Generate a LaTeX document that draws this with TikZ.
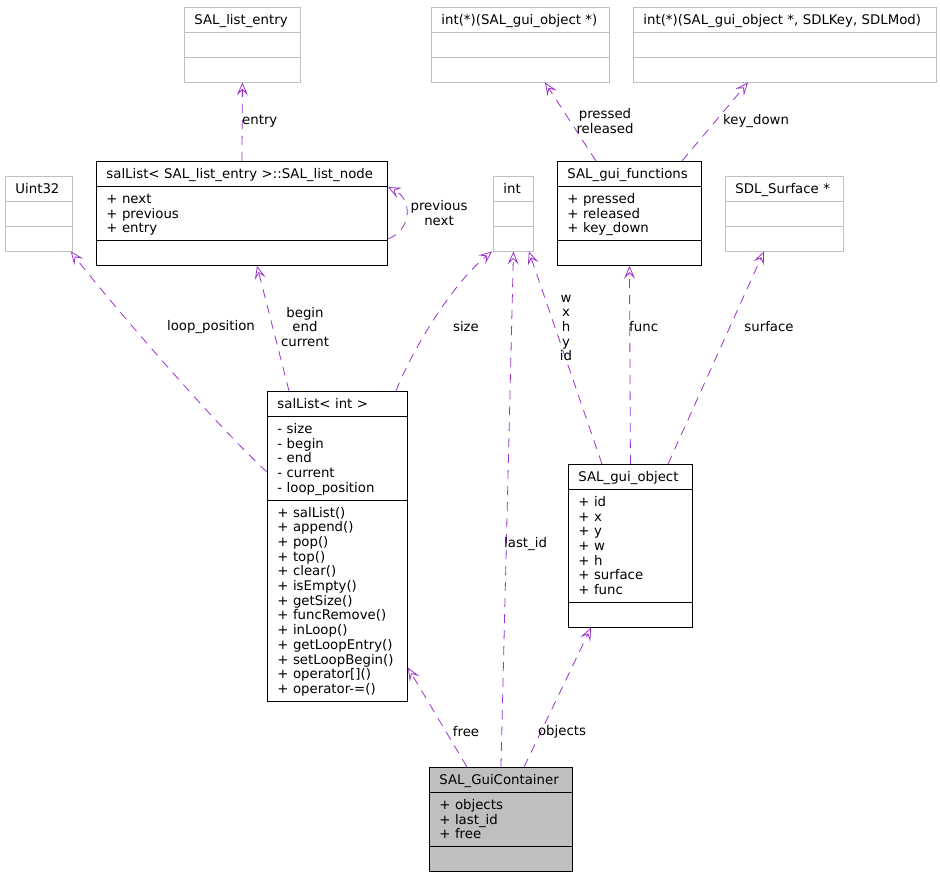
\documentclass[tikz,border=0pt]{standalone}
\usepackage{fontspec}
\setmainfont{DejaVu Sans}
\usetikzlibrary{shapes.multipart,arrows.meta}

\definecolor{relcol}{HTML}{9A32CD}
\definecolor{boxgray}{HTML}{BFBFBF}

\newcommand{\clsup}{\rule{0pt}{12.75pt}}
\newcommand{\clsdn}{\rule[-3.5pt]{0pt}{3.5pt}}
\newcommand{\clstitle}[1]{\centering\clsup#1\clsdn}
\newcommand{\clsnone}{\clsup\clsdn}

\tikzset{
  cls/.style={rectangle split, rectangle split parts=3, draw, line width=0.9pt,
    anchor=north west, inner xsep=10pt, inner ysep=3.85pt, align=left,
    font=\fontsize{13.3}{14.7}\selectfont},
  extcls/.style={cls, draw=boxgray},
  rel/.style={draw=relcol, line width=0.8pt, dash pattern=on 9pt off 7pt,
    -{Stealth[open, length=13pt, width=11pt, inset=5.5pt]}},
  rellbl/.style={font=\fontsize{13.3}{14.7}\selectfont, align=center,
    inner sep=0pt, text=black}
}

\begin{document}
\begin{tikzpicture}[x=1pt, y=-1pt]
\useasboundingbox (0,0) rectangle (940,877);

\node[extcls, text width=96pt] (entry) at (184,7)
  {\clstitle{SAL\_list\_entry} \nodepart{two}\clsnone \nodepart{three}\clsnone};
\node[extcls, text width=158pt] (fptr) at (431,7)
  {\clstitle{int(*)(SAL\_gui\_object *)} \nodepart{two}\clsnone \nodepart{three}\clsnone};
\node[extcls, text width=283pt] (keyptr) at (633,7)
  {\clstitle{int(*)(SAL\_gui\_object *, SDLKey, SDLMod)} \nodepart{two}\clsnone \nodepart{three}\clsnone};

\node[extcls, text width=47pt] (uint) at (5,176)
  {\clstitle{Uint32} \nodepart{two}\clsnone \nodepart{three}\clsnone};
\node[cls, text width=271pt] (listnode) at (96,161)
  {\clstitle{salList< SAL\_list\_entry >::SAL\_list\_node}
   \nodepart{two}\clsup + next\\+ previous\\+ entry\clsdn
   \nodepart{three}\clsnone};
\node[extcls, text width=20pt] (int) at (493,176)
  {\clstitle{int} \nodepart{two}\clsnone \nodepart{three}\clsnone};
\node[cls, text width=124pt] (funcs) at (557,161)
  {\clstitle{SAL\_gui\_functions}
   \nodepart{two}\clsup + pressed\\+ released\\+ key\_down\clsdn
   \nodepart{three}\clsnone};
\node[extcls, text width=98pt] (surf) at (725,176)
  {\clstitle{SDL\_Surface *} \nodepart{two}\clsnone \nodepart{three}\clsnone};

\node[cls, text width=120pt] (intlist) at (267,391)
  {\clstitle{salList< int >}
   \nodepart{two}\clsup - size\\- begin\\- end\\- current\\- loop\_position\clsdn
   \nodepart{three}\clsup + salList()\\+ append()\\+ pop()\\+ top()\\+ clear()\\+ isEmpty()\\+ getSize()\\+ funcRemove()\\+ inLoop()\\+ getLoopEntry()\\+ setLoopBegin()\\+ operator[]()\\+ operator-=()\clsdn};
\node[cls, text width=104pt] (guiobj) at (568,464)
  {\clstitle{SAL\_gui\_object}
   \nodepart{two}\clsup + id\\+ x\\+ y\\+ w\\+ h\\+ surface\\+ func\clsdn
   \nodepart{three}\clsnone};

\node[cls, text width=123pt, fill=boxgray] (cont) at (429,767)
  {\clstitle{SAL\_GuiContainer}
   \nodepart{two}\clsup + objects\\+ last\_id\\+ free\clsdn
   \nodepart{three}\clsnone};

\draw[rel] (listnode.north) -- (entry.south);
\draw[rel] ([yshift=27pt]listnode.south east) .. controls +(23pt,8pt) and +(26pt,-13pt)
  .. ([yshift=-26pt]listnode.north east);
\draw[rel] ([xshift=39pt]funcs.north west) -- ([xshift=114pt]fptr.south west);
\draw[rel] ([xshift=125pt]funcs.north west) -- ([xshift=115pt]keyptr.south west);

\draw[rel] ([yshift=-81pt]intlist.north west) .. controls (215,425) and (100,290)
  .. ([xshift=-2pt]uint.south east);
\draw[rel] ([xshift=22pt]intlist.north west) -- ([xshift=161pt]listnode.south west);
\draw[rel] ([xshift=129pt]intlist.north west) .. controls (412,350) and (452,284)
  .. ([xshift=-1pt]int.south west);
\draw[rel] (guiobj.north) -- (funcs.south);
\draw[rel] ([xshift=34pt]guiobj.north west) -- ([xshift=-5pt]int.south east);
\draw[rel] ([xshift=100pt]guiobj.north west) -- ([xshift=39pt]surf.south west);

\draw[rel] (cont.north) -- (int.south);
\draw[rel] ([xshift=38pt]cont.north west) -- ([yshift=34pt]intlist.south east);
\draw[rel] ([xshift=95pt]cont.north west) -- ([xshift=23pt]guiobj.south west);

\node[rellbl, anchor=west] (lentry) at (242,121) {entry};
\node[rellbl] (lprev) at (439,213) {previous\\next};
\node[rellbl] (lpress) at (605,121) {pressed\\released};
\node[rellbl, anchor=west] (lkey) at (723,121) {key\_down};
\node[rellbl] (lloop) at (211,327) {loop\_position};
\node[rellbl] (lbegin) at (305,327) {begin\\end\\current};
\node[rellbl] (lsize) at (466,327) {size};
\node[rellbl, anchor=west] (lfunc) at (629,327) {func};
\node[rellbl] (lcoord) at (566,328) {w\\x\\h\\y\\id};
\node[rellbl] (lsurf) at (769,327) {surface};
\node[rellbl, anchor=west] (llast) at (504,544) {last\_id};
\node[rellbl] (lfree) at (466,732) {free};
\node[rellbl] (lobj) at (562,732) {objects};

\end{tikzpicture}
\end{document}
